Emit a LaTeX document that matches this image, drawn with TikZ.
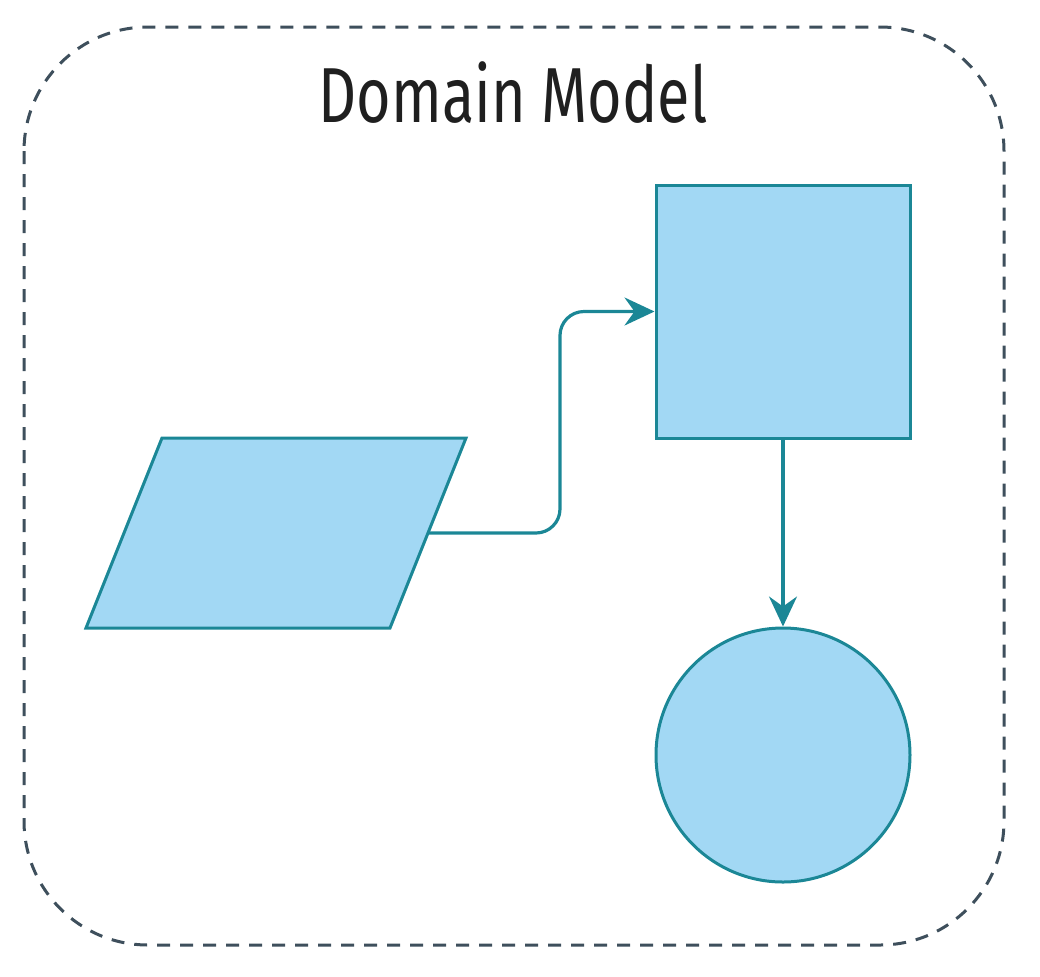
\documentclass[tikz,border=0pt]{standalone}
\usepackage{fontspec}
\newfontfamily\titlefont[FakeStretch=0.76]{Fira Sans}
\usetikzlibrary{arrows.meta}
\definecolor{fillblue}{HTML}{A2D8F4}
\definecolor{edgeteal}{HTML}{1B8796}
\definecolor{borderslate}{HTML}{3E4F5C}
\tikzset{
  shapebox/.style={draw=edgeteal, fill=fillblue, line width=1.5pt},
  link/.style={draw=edgeteal, line width=1.6pt, rounded corners=12pt, -{Stealth[length=15pt,width=14pt,inset=5pt]}},
  frame/.style={draw=borderslate, line width=1.5pt, dash pattern=on 6.5pt off 5pt, rounded corners=62pt}
}
\begin{document}
\begin{tikzpicture}[x=0.5pt,y=-0.5pt]
\useasboundingbox (0,0) rectangle (1040,976);
\draw[frame] (24,27) rectangle (1004,945);
\node[font=\titlefont\fontsize{39}{44}\selectfont, text=black!88] (title) at (513,93) {Domain Model};
\node[shapebox, minimum width=127pt, minimum height=126.5pt, inner sep=0pt] (sq) at (783,311.5) {};
\node[shapebox, circle, minimum size=127pt, inner sep=0pt] (circ) at (783,755) {};
\draw[shapebox] (162,438) -- (466,438) -- (390,628) -- (86,628) -- cycle;
\coordinate (para) at (428,533);
\coordinate (bend) at (560,533);
\draw[link] (para) -- (bend) |- (sq.west);
\draw[link] (sq.south) -- (circ.north);
\end{tikzpicture}
\end{document}
